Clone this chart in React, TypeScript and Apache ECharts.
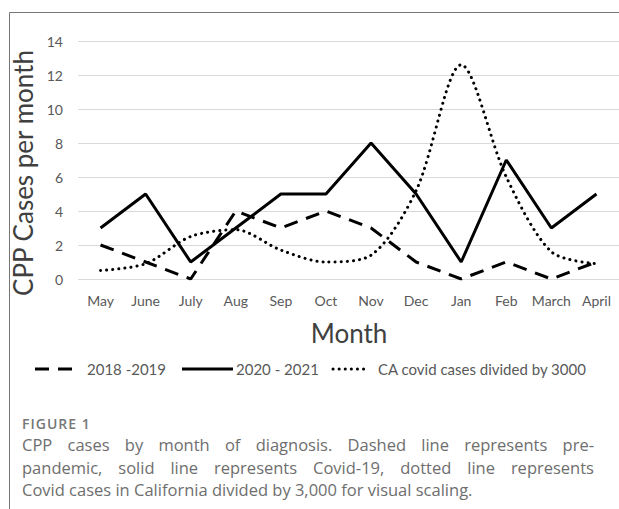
import React, { useEffect, useRef } from "react";
import * as echarts from "echarts";

const months = ["May", "June", "July", "Aug", "Sep", "Oct", "Nov", "Dec", "Jan", "Feb", "March", "April"];
const prePandemic = [2, 1, 0, 4, 3, 4, 3, 1, 0, 1, 0, 1];
const covidYear = [3, 5, 1, 3, 5, 5, 8, 5, 1, 7, 3, 5];
const caCovid = [0.5, 0.9, 2.5, 2.9, 1.7, 1.0, 1.4, 5.2, 12.6, 6.0, 1.6, 0.9];
const seriesNames = ["2018 -2019", "2020 - 2021", "CA covid cases divided by 3000"];
const yTicks = { min: 0, max: 14, interval: 2 };

const FONT = "Lato, 'Liberation Sans', sans-serif";
const GRAY = "#595959";

export default function App() {
  const ref = useRef<HTMLDivElement>(null);
  useEffect(() => {
    if (!ref.current) return;
    const chart = echarts.init(ref.current, undefined, { renderer: "svg" });
    const legendY = 369;
    const legendText = (x: number, text: string) => ({
      type: "text",
      x,
      y: legendY,
      style: { text, fontSize: 15, fontFamily: FONT, fill: GRAY, verticalAlign: "middle" },
    });
    const option: any = {
      animation: false,
      textStyle: { fontFamily: FONT },
      grid: { left: 78, top: 41, width: 543, height: 238, containLabel: false },
      xAxis: {
        type: "category",
        data: months,
        boundaryGap: true,
        axisLine: { show: false },
        axisTick: { show: false },
        axisLabel: { color: GRAY, fontSize: 14, margin: 14, fontFamily: FONT, interval: 0 },
        splitLine: { show: false },
      },
      yAxis: {
        type: "value",
        min: yTicks.min,
        max: yTicks.max,
        interval: yTicks.interval,
        axisLine: { show: false },
        axisTick: { show: false },
        axisLabel: { color: GRAY, fontSize: 14, margin: 15, fontFamily: FONT },
        splitLine: { lineStyle: { color: "#d9d9d9", width: 1 } },
      },
      series: [
        {
          name: seriesNames[0],
          type: "line",
          data: prePandemic,
          showSymbol: false,
          lineStyle: { color: "#000", width: 3, type: [14, 9], cap: "butt" },
        },
        {
          name: seriesNames[1],
          type: "line",
          data: covidYear,
          showSymbol: false,
          lineStyle: { color: "#000", width: 3, type: "solid" },
        },
        {
          name: seriesNames[2],
          type: "line",
          data: caCovid,
          smooth: 0.3,
          showSymbol: false,
          lineStyle: { color: "#000", width: 3, type: [0.1, 6], cap: "round" },
        },
      ],
      graphic: [
        {
          type: "rect",
          shape: { x: 9.5, y: 12.5, width: 700, height: 600 },
          style: { fill: "none", stroke: "#767676", lineWidth: 1 },
          silent: true,
        },
        {
          type: "text",
          x: 23,
          y: 173,
          rotation: Math.PI / 2,
          style: {
            text: "CPP Cases per month",
            fontSize: 26,
            fontFamily: FONT,
            fill: "#404040",
            align: "center",
            verticalAlign: "middle",
          },
        },
        {
          type: "text",
          x: 349,
          y: 333,
          style: {
            text: "Month",
            fontSize: 26,
            fontFamily: FONT,
            fill: "#404040",
            align: "center",
            verticalAlign: "middle",
          },
        },
        {
          type: "line",
          shape: { x1: 35, y1: legendY, x2: 75, y2: legendY },
          style: { stroke: "#000", lineWidth: 3, lineDash: [14, 9] },
        },
        legendText(87, seriesNames[0]),
        {
          type: "line",
          shape: { x1: 182, y1: legendY, x2: 233, y2: legendY },
          style: { stroke: "#000", lineWidth: 3 },
        },
        legendText(236, seriesNames[1]),
        {
          type: "line",
          shape: { x1: 333, y1: legendY, x2: 369, y2: legendY },
          style: { stroke: "#000", lineWidth: 3, lineDash: [0.1, 6], lineCap: "round" },
        },
        legendText(378, seriesNames[2]),
      ],
    };
    chart.setOption(option);
    return () => chart.dispose();
  }, []);

  const capStyle: React.CSSProperties = {
    fontFamily: "'Open Sans', 'Noto Sans', sans-serif",
    fontSize: 16.5,
    color: "#6e6e6e",
    lineHeight: "22.5px",
    whiteSpace: "nowrap",
  };
  const justify: React.CSSProperties = { ...capStyle, textAlign: "justify", textAlignLast: "justify" as any, whiteSpace: "normal" };

  return (
    <div style={{ position: "fixed", left: 0, top: 0, width: 619, height: 509, background: "#fff", overflow: "hidden" }}>
      <div ref={ref} style={{ position: "absolute", left: 0, top: 0, width: 619, height: 509 }} />
      <div style={{ position: "absolute", left: 22, top: 414, width: 572 }}>
        <div style={{ fontFamily: "'Open Sans', 'Noto Sans', sans-serif", fontSize: 14, fontWeight: 600, letterSpacing: 1, color: "#777", lineHeight: "20px", marginBottom: 0 }}>
          FIGURE 1
        </div>
        <div style={justify}>CPP cases by month of diagnosis. Dashed line represents pre-</div>
        <div style={justify}>pandemic, solid line represents Covid-19, dotted line represents</div>
        <div style={capStyle}>Covid cases in California divided by 3,000 for visual scaling.</div>
      </div>
    </div>
  );
}
